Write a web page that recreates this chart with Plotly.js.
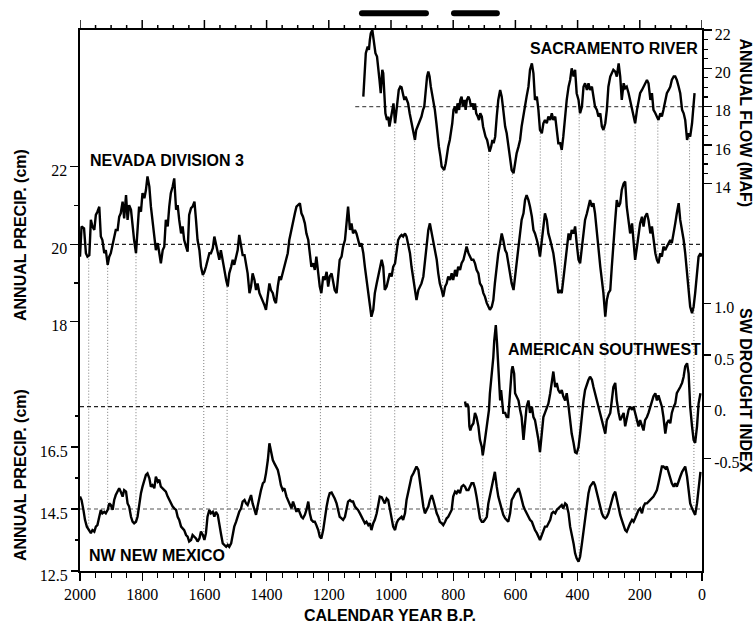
<!DOCTYPE html>
<html>
<head>
<meta charset="utf-8">
<script src="https://cdn.plot.ly/plotly-3.0.1.min.js"></script>
<style>
  html, body { margin: 0; padding: 0; background: #fff; }
  #chart { width: 756px; height: 624px; }
</style>
</head>
<body>
<div id="chart"></div>
<script>
// ---- Nevada Division 3 reconstructed annual precipitation (cm) ----
const nevadaYears = [
  2000,1995,1987,1981,1976,1970,1965,1960,1954,1949,1944,1938,1933,1928,1922,1917,1911,1906,1901,1895,
  1890,1885,1879,1874,1869,1863,1858,1852,1847,1842,1836,1831,1826,1820,1815,1810,1804,1799,1793,1788,
  1783,1777,1772,1767,1761,1756,1750,1745,1740,1734,1729,1724,1718,1713,1708,1702,1697,1691,1686,1681,
  1675,1670,1665,1659,1654,1649,1643,1638,1632,1627,1622,1616,1611,1605,1600,1595,1590,1584,1579,1573,
  1568,1563,1557,1552,1547,1541,1536,1530,1525,1520,1514,1509,1504,1498,1493,1488,1482,1477,1471,1466,
  1461,1455,1450,1445,1439,1434,1429,1423,1418,1412,1407,1402,1396,1391,1386,1380,1375,1370,1364,1359,
  1354,1348,1343,1338,1332,1327,1322,1309,1304,1293,1288,1283,1277,1272,1266,1261,1256,1250,1245,1240,
  1234,1229,1224,1218,1213,1207,1202,1197,1191,1186,1181,1175,1170,1165,1159,1154,1148,1143,1138,1132,
  1127,1122,1116,1111,1106,1100,1095,1089,1084,1079,1073,1068,1063,1057,1052,1046,1041,1036,1030,1025,
  1020,1014,1009,1004,998,993,987,982,977,971,966,961,955,950,945,939,934,928,923,918,
  912,907,902,896,891,885,880,875,869,864,859,853,848,843,837,832,826,821,816,810,
  805,800,794,789,784,778,773,767,762,757,751,746,741,735,730,725,719,714,708,703,
  698,692,687,682,676,671,666,660,655,649,644,639,633,628,623,617,612,606,601,596,
  590,585,580,574,569,564,558,553,547,542,537,531,526,521,515,510,505,499,494,488,
  483,478,472,467,462,456,451,446,440,435,429,424,419,413,408,403,397,392,386,381,
  376,370,365,360,354,349,344,338,333,327,322,317,311,306,301,295,290,285,279,274,
  268,263,258,252,247,242,236,231,225,220,215,209,204,199,193,188,183,177,172,166,
  161,156,150,145,140,134,129,124,118,113,107,102,97,91,86,81,75,70,64,59,
  54,48,43,38,32,27,22,16,11,5,2
];
const nevadaPrecip = [
  19.68,20.46,20.41,19.77,19.68,19.72,20.63,20.46,20.37,20.76,20.84,20.97,20.20,20.11,19.77,19.85,19.47,19.68,19.77,20.03,
  20.20,20.37,20.37,20.71,20.80,21.10,20.67,21.27,20.63,21.01,20.89,20.46,20.11,19.77,20.37,20.97,20.84,21.32,21.19,21.40,
  21.75,21.49,20.97,20.63,20.07,19.85,20.03,19.72,19.51,19.85,19.94,20.63,20.46,20.97,21.32,21.49,21.70,20.89,21.01,20.63,
  20.28,20.46,20.11,19.94,19.81,20.76,20.93,20.97,21.10,20.63,20.11,19.85,19.42,19.21,19.29,19.42,19.60,19.77,19.77,19.90,
  20.20,20.03,19.85,19.60,19.85,19.55,19.34,19.08,18.91,19.25,19.42,19.60,19.47,19.68,19.85,20.24,19.94,19.72,19.72,19.47,
  19.25,18.74,18.91,19.25,19.08,18.82,18.99,18.74,18.65,18.56,18.43,18.31,18.65,18.99,18.82,18.74,18.56,18.48,18.91,19.17,
  19.08,19.25,19.42,19.60,19.77,20.11,20.33,20.80,20.97,21.06,20.80,20.71,20.54,20.28,20.11,19.77,19.42,19.51,19.34,19.68,
  19.17,18.91,18.74,19.17,19.08,19.29,18.91,19.17,19.25,18.99,18.82,18.74,19.17,19.60,19.68,19.94,20.11,20.63,20.97,20.37,
  20.54,20.28,20.37,20.28,20.11,19.94,20.03,19.77,19.42,19.08,18.74,18.39,18.13,18.31,18.74,18.99,19.17,19.42,19.60,19.42,
  18.82,18.91,19.08,19.25,19.17,19.42,19.51,19.77,20.11,20.20,20.24,20.20,20.28,20.20,20.03,19.77,19.42,19.08,18.74,18.56,
  18.82,18.91,18.99,19.17,19.51,19.94,20.37,20.54,20.28,20.11,19.94,19.60,19.25,18.99,18.82,18.65,18.91,18.99,19.17,19.08,
  19.25,19.08,19.34,19.17,19.42,19.34,19.51,19.60,19.77,19.94,19.77,19.68,19.60,19.60,19.51,19.34,19.25,18.99,18.91,18.74,
  18.65,18.48,18.39,18.31,18.39,18.56,18.99,19.42,19.77,20.03,20.28,20.11,19.85,19.77,19.51,19.25,18.99,18.82,19.17,19.60,
  20.03,20.37,20.63,20.80,21.14,21.27,21.14,20.97,20.71,20.37,20.28,20.11,19.94,19.68,20.11,20.46,20.80,20.63,20.28,20.11,
  19.94,19.77,19.42,18.99,18.74,18.82,18.74,19.08,19.51,19.94,20.28,20.11,20.37,20.28,20.46,20.03,19.60,19.51,19.94,20.28,
  20.63,20.80,20.97,21.14,20.97,21.06,20.80,20.28,19.77,19.42,19.08,18.74,18.13,18.56,18.74,18.82,19.42,20.11,20.63,21.14,
  20.97,21.06,21.40,21.57,21.62,20.97,20.63,20.28,20.54,20.03,19.60,19.94,20.28,20.54,20.71,20.46,20.71,20.80,20.63,20.28,
  20.46,20.11,19.77,19.60,19.51,19.77,19.68,19.94,19.85,19.94,20.03,20.11,20.03,20.28,20.54,20.80,21.06,20.63,20.37,20.11,
  19.77,19.25,18.74,18.39,18.22,18.39,18.74,19.25,19.68,19.77,19.68
];

// ---- Sacramento River reconstructed annual flow (MAF) ----
const sacYears = [
  1089,1084,1081,1075,1071,1068,1065,1060,1057,1054,1050,1045,1041,1037,1033,1028,1025,1022,1018,1013,
  1009,1005,1000,996,992,987,983,979,975,970,966,962,957,953,949,945,940,936,932,927,
  923,919,915,910,906,902,897,893,889,884,880,876,872,867,863,859,854,850,846,841,
  837,833,829,824,820,816,811,807,803,799,794,790,786,781,777,773,769,764,760,756,
  751,747,743,738,734,730,726,721,717,713,708,704,700,696,691,687,683,678,674,670,
  665,660,655,649,644,639,633,628,623,617,612,606,601,596,590,585,580,574,569,564,
  558,553,547,542,537,531,526,521,515,510,505,499,494,488,483,478,472,467,462,456,
  451,446,440,435,429,424,419,413,408,403,397,392,386,381,376,370,365,360,354,349,
  344,338,333,327,322,317,311,306,301,295,290,285,279,274,268,263,258,252,247,242,
  236,231,225,220,215,209,204,199,193,188,183,177,172,166,161,156,150,145,140,134,
  129,124,118,113,107,102,97,91,86,81,75,70,64,59,54,48,43,38,32,27,24
];
const sacFlow = [
  18.52,20.09,20.79,21.13,20.96,21.48,21.83,22.00,21.66,21.31,20.79,20.61,20.09,19.39,18.70,19.92,19.74,18.70,17.65,17.30,
  17.48,16.96,17.48,17.83,18.17,17.13,17.83,18.52,18.87,19.04,19.01,18.70,18.35,18.52,18.35,18.17,17.65,17.30,17.13,16.61,
  16.26,16.78,16.96,17.13,17.39,17.48,17.83,18.00,18.70,19.57,19.83,19.57,19.04,18.52,18.35,17.83,17.13,16.43,15.91,15.39,
  14.87,14.78,14.69,15.04,15.56,15.91,16.26,16.61,17.13,17.83,18.00,17.65,18.17,17.83,18.35,18.52,18.00,18.35,17.83,18.35,
  18.52,18.35,18.00,18.17,17.83,18.17,17.65,17.48,17.30,17.65,17.48,16.96,16.61,16.43,16.26,15.91,15.65,15.91,16.26,16.09,
  16.43,17.48,18.35,18.87,18.52,17.83,16.96,16.61,15.91,15.21,14.69,14.52,15.04,15.56,15.91,16.26,16.96,17.65,18.17,18.52,
  19.04,19.92,20.26,19.74,18.35,18.52,17.83,16.78,16.61,17.13,17.30,17.13,17.48,17.30,17.65,17.30,17.48,16.61,16.09,16.09,
  15.74,16.43,17.65,18.35,19.04,19.39,20.00,19.57,19.92,18.70,18.35,17.65,18.00,19.04,19.22,18.87,19.22,18.87,19.04,18.52,
  18.00,17.83,17.48,17.65,16.96,16.78,17.13,17.83,19.04,19.57,19.74,19.92,19.83,19.57,20.26,19.57,18.35,19.22,18.96,19.04,
  18.70,18.35,18.00,17.65,17.13,17.83,18.35,18.70,18.87,19.04,19.22,19.39,19.22,18.35,18.70,17.83,17.65,17.48,17.30,17.65,
  17.48,17.83,18.35,18.70,18.87,19.04,19.39,19.57,19.57,19.39,19.04,18.70,17.83,17.65,17.30,16.26,16.61,16.43,17.13,18.35,18.70
];

// ---- American Southwest drought index ----
const swYears = [
  762,759,755,751,748,745,741,735,730,725,719,714,708,705,701,698,692,689,685,682,
  676,671,668,663,659,655,649,646,642,639,633,628,623,619,615,612,609,604,601,596,
  590,585,580,574,569,564,558,553,547,542,537,531,526,521,515,510,505,499,494,488,
  483,478,472,467,462,456,451,446,440,435,429,424,419,413,408,403,397,392,386,381,
  376,370,365,360,354,349,344,338,333,327,322,317,311,306,301,295,290,285,279,274,
  268,263,258,252,247,242,236,231,225,220,215,209,204,199,193,188,183,177,172,166,
  161,156,150,145,140,134,129,124,118,113,107,102,97,91,86,81,75,70,64,59,
  54,48,43,38,32,27,22,16,11,5
];
const swIndex = [
  0.05,0.00,0.03,0.00,-0.19,-0.23,-0.19,-0.16,-0.06,-0.10,-0.19,-0.32,-0.39,-0.47,-0.39,-0.32,-0.18,-0.13,-0.03,0.13,
  0.29,0.48,0.64,0.79,0.61,0.39,0.06,0.16,0.06,-0.06,-0.06,-0.10,-0.10,0.10,0.26,0.35,0.39,0.32,0.13,0.10,
  0.06,-0.03,-0.10,-0.32,-0.13,0.00,0.06,-0.06,0.00,-0.10,-0.13,-0.23,-0.32,-0.44,-0.26,-0.10,-0.06,0.00,0.03,0.13,
  0.23,0.34,0.19,0.23,0.16,0.13,0.16,0.10,0.06,0.13,0.00,-0.13,-0.26,-0.35,-0.44,-0.45,-0.39,-0.26,-0.06,0.06,
  0.16,0.23,0.26,0.29,0.26,0.19,0.13,0.06,0.00,-0.10,-0.16,-0.19,-0.26,-0.13,-0.10,-0.06,0.06,0.19,0.23,0.06,
  -0.06,-0.13,-0.10,-0.06,-0.19,-0.13,-0.03,0.00,-0.03,0.00,-0.06,-0.13,-0.19,-0.13,-0.19,-0.23,-0.13,-0.10,-0.06,0.00,
  0.06,0.10,0.13,0.06,0.11,0.06,0.00,-0.10,-0.26,-0.16,-0.13,-0.16,-0.06,0.00,0.03,0.13,0.16,0.19,0.23,0.29,
  0.39,0.42,0.32,0.00,-0.19,-0.32,-0.35,-0.19,0.03,0.13
];

// ---- NW New Mexico reconstructed annual precipitation (cm) ----
const nmYears = [
  2000,1995,1989,1984,1978,1970,1965,1960,1954,1949,1944,1938,1933,1928,1922,1917,1911,1906,1901,1895,
  1890,1885,1879,1874,1869,1863,1858,1852,1847,1842,1836,1831,1826,1820,1815,1810,1804,1799,1793,1788,
  1783,1777,1772,1767,1761,1756,1750,1745,1740,1734,1729,1724,1718,1713,1708,1702,1697,1691,1686,1681,
  1675,1670,1665,1659,1654,1649,1643,1638,1632,1627,1622,1616,1611,1605,1600,1595,1590,1584,1579,1573,
  1568,1563,1557,1552,1547,1541,1536,1530,1525,1520,1514,1509,1504,1498,1493,1488,1482,1477,1471,1466,
  1461,1455,1450,1445,1439,1434,1429,1423,1418,1412,1407,1402,1396,1391,1386,1380,1375,1370,1364,1359,
  1354,1348,1343,1336,1331,1326,1320,1315,1309,1304,1299,1293,1288,1283,1277,1272,1266,1261,1256,1250,
  1245,1240,1234,1229,1224,1218,1213,1207,1202,1197,1191,1186,1181,1175,1170,1165,1159,1154,1148,1143,
  1138,1132,1127,1122,1116,1111,1106,1100,1095,1089,1084,1079,1073,1068,1063,1057,1052,1046,1041,1036,
  1030,1025,1020,1014,1009,1004,998,993,987,982,977,971,966,961,955,950,945,939,934,928,
  923,918,912,907,902,896,891,885,880,875,869,864,859,853,848,843,837,832,826,821,
  816,810,805,800,794,789,784,778,773,767,762,757,751,746,741,735,730,725,719,714,
  708,703,698,692,687,682,676,671,666,660,655,649,644,639,633,628,623,617,612,606,
  601,596,590,585,580,574,569,564,558,553,547,542,537,531,526,521,515,510,505,499,
  494,488,483,478,472,467,462,456,451,446,440,435,429,424,419,413,408,403,397,392,
  386,381,376,370,365,360,354,349,344,338,333,327,322,317,311,306,301,295,290,285,
  279,274,268,263,258,252,247,242,236,231,225,220,215,209,204,199,193,188,183,177,
  172,166,161,156,150,145,140,134,129,124,118,113,107,102,97,91,86,81,75,70,
  64,59,54,48,43,38,32,27,22,16,11,5
];
const nmPrecip = [
  14.90,14.79,14.47,14.15,13.93,13.82,13.72,13.82,13.77,13.93,13.98,14.25,14.47,14.36,14.41,14.36,14.47,14.68,14.63,14.47,
  14.79,14.95,15.06,15.17,15.06,14.90,15.11,15.06,14.68,14.58,14.25,14.09,14.04,14.09,14.25,14.68,15.01,15.22,15.44,15.60,
  15.65,15.49,15.22,15.27,15.17,15.54,15.38,15.44,15.22,15.17,15.11,15.06,14.90,14.79,14.68,14.58,14.52,14.47,14.25,14.15,
  13.93,13.88,13.82,13.66,13.61,13.45,13.50,13.66,13.61,13.55,13.45,13.55,13.77,13.66,13.50,13.72,14.25,14.47,14.36,14.41,
  14.25,14.41,14.31,13.93,13.72,13.39,13.34,13.28,13.34,13.28,13.39,13.66,13.93,14.09,14.25,14.41,14.52,14.74,14.79,14.68,
  14.63,14.79,14.95,14.68,14.47,14.31,14.58,14.90,15.11,15.33,15.38,15.65,16.08,16.62,16.40,16.08,15.97,15.87,15.76,15.54,
  15.27,15.11,15.17,14.90,14.79,14.68,14.52,14.74,14.52,14.41,14.52,14.36,14.25,14.20,14.31,14.47,14.74,14.36,14.15,14.09,
  14.09,13.98,13.82,13.61,13.55,13.82,14.25,14.58,14.84,15.01,15.03,14.95,14.84,14.68,14.47,14.25,14.20,14.15,14.25,14.52,
  14.74,14.79,14.74,14.74,14.58,14.52,14.47,14.36,14.25,14.15,14.04,14.09,13.98,14.04,13.82,14.04,14.15,14.36,14.63,14.90,
  14.88,14.79,14.68,14.84,14.79,14.52,14.15,13.93,13.82,14.04,14.15,14.20,14.25,14.15,14.36,14.79,15.01,15.27,15.54,15.65,
  15.76,15.87,15.76,15.33,15.01,14.58,14.36,14.47,14.58,14.79,14.95,14.79,14.58,14.36,14.25,14.09,14.04,13.98,14.09,14.20,
  14.25,14.36,14.47,14.90,15.06,15.01,15.11,15.01,15.22,15.27,15.22,15.11,15.11,15.22,15.33,15.33,15.17,14.90,14.58,14.20,
  14.09,14.09,14.15,14.25,14.68,14.90,15.22,15.44,15.70,15.22,14.90,14.68,14.47,14.31,14.20,14.15,14.09,14.36,14.79,14.90,
  15.01,15.06,15.17,15.01,14.79,14.58,14.47,14.36,14.25,14.15,14.09,13.93,13.82,13.72,13.61,13.50,13.66,13.82,13.93,13.93,
  14.04,14.15,14.36,14.41,14.36,14.47,14.52,14.58,14.63,14.52,14.68,14.63,14.36,13.93,13.72,13.39,13.07,12.91,12.80,12.96,
  13.39,13.82,14.25,14.68,15.01,15.22,15.33,15.38,15.27,15.01,14.79,14.52,14.36,14.25,14.20,14.25,14.36,14.58,14.79,14.95,
  15.06,14.79,14.47,14.31,14.15,13.98,13.82,13.77,13.93,14.04,14.15,14.09,14.20,14.36,14.47,14.52,14.36,14.58,14.68,14.68,
  14.74,14.79,14.84,14.90,15.01,15.11,15.33,15.65,15.87,15.87,15.81,15.87,15.65,15.44,15.33,15.22,15.33,15.22,15.44,15.54,
  15.70,15.81,15.87,15.54,15.11,14.68,14.52,14.41,14.31,14.68,15.22,15.70
];

// Long-term means (dashed reference lines)
const nevadaMean = 20, sacMean = 18, swMean = 0, nmMean = 14.5;
const sacMeanFrom = 1115;

// Severe drought epochs marked above the frame (years B.P.)
const droughtStart = [1103, 807];
const droughtEnd   = [878, 650];

// Troughs traced between records: [year, upper record, lower record]
const troughLinks = [
  [1972,'nv','nm'],[1911,'nv','nm'],[1820,'nv','nm'],[1602,'nv','nm'],[1527,'nv','nm'],
  [1227,'nv','nm'],[1065,'nv','nm'],[988,'sac','nm'],[924,'sac','nv'],[834,'sac','nm'],
  [686,'sac','nv'],[705,'sw','nm'],[629,'sw','nm'],[610,'sac','nv'],[520,'sac','nm'],
  [452,'sac','nv'],[395,'sac','nm'],[312,'sac','nm'],[215,'sac','nm'],[142,'sac','nv'],
  [40,'sac','nv'],[26,'nv','nm']
];

// Tick values
const yearTicks = [2000,1800,1600,1400,1200,1000,800,600,400,200,0];
const yearMinorStep = 50;
const nvTicks = [18,20,22], nvMinor = [19,21];
const nmTicks = [12.5,14.5,16.5], nmMinor = [13.5,15.5,17.5];
const sacTicks = [14,16,18,20,22];
const sacMinor = [14.5,15,15.5,16.5,17,17.5,18.5,19,19.5,20.5,21,21.5];
const swTicks = [-0.5,0,0.5,1.0], swTickText = ['-0.5','0.','0.5','1.0'];

// ---- layout geometry ----
const M = {l: 80, r: 54, t: 30, b: 53};
const W = 756, H = 624;
const plotW = W - M.l - M.r, plotH = H - M.t - M.b;

// Each record gets its own vertical scale within the shared frame
const ranges = {
  nv:  [11.569, 25.530],
  sac: [-6.25, 22.0],
  sw:  [-1.589, 3.643],
  nm:  [12.5, 29.952]
};
const seriesData = {
  nv:  [nevadaYears, nevadaPrecip],
  sac: [sacYears, sacFlow],
  sw:  [swYears, swIndex],
  nm:  [nmYears, nmPrecip]
};

function toPaper(key, v) {
  const r = ranges[key];
  return (v - r[0]) / (r[1] - r[0]);
}
function valueAt(key, year) {
  const xs = seriesData[key][0], ys = seriesData[key][1];
  for (let i = 0; i < xs.length - 1; i++) {
    if ((xs[i] >= year && year >= xs[i + 1])) {
      const t = (xs[i] - year) / (xs[i] - xs[i + 1]);
      return ys[i] + t * (ys[i + 1] - ys[i]);
    }
  }
  return ys[ys.length - 1];
}

const serifFont = {family: '"Liberation Serif", "DejaVu Serif", Times, serif', size: 16, color: '#000'};
const sansBold = {family: '"Liberation Sans", Arial, sans-serif', size: 16, color: '#000'};

function curve(xs, ys, yaxis) {
  return {
    x: xs, y: ys, xaxis: 'x', yaxis: yaxis,
    type: 'scatter', mode: 'lines',
    line: {color: '#000', width: 2.4},
    hoverinfo: 'skip', showlegend: false
  };
}

const traces = [
  curve(nevadaYears, nevadaPrecip, 'y'),
  curve(sacYears, sacFlow, 'y2'),
  curve(nmYears, nmPrecip, 'y3'),
  curve(swYears, swIndex, 'y4')
];

const shapes = [];

// dotted trough connectors
troughLinks.forEach(([yr, a, b]) => {
  shapes.push({
    type: 'line', layer: 'below', xref: 'x', yref: 'paper',
    x0: yr, x1: yr,
    y0: toPaper(a, valueAt(a, yr)), y1: toPaper(b, valueAt(b, yr)),
    line: {color: '#7a7a7a', width: 1, dash: '1px,2px'}
  });
});

// dashed mean lines
function meanLine(yref, v, from, color) {
  return {
    type: 'line', layer: 'below', xref: 'x', yref: yref,
    x0: from, x1: 0, y0: v, y1: v,
    line: {color: color, width: 1.2, dash: '4px,3px'}
  };
}
shapes.push(meanLine('y', nevadaMean, 2000, '#222'));
shapes.push(meanLine('y2', sacMean, sacMeanFrom, '#555'));
shapes.push(meanLine('y4', swMean, 2000, '#222'));
shapes.push(meanLine('y3', nmMean, 2000, '#555'));

// year ticks repeated along the top edge of the frame
for (let yr = 2000; yr >= 0; yr -= yearMinorStep) {
  const len = yearTicks.indexOf(yr) >= 0 ? 10 : 5;
  shapes.push({
    type: 'line', layer: 'above', xref: 'x', yref: 'paper',
    x0: yr, x1: yr, y0: 1 + 1 / plotH, y1: 1 + len / plotH,
    line: {color: '#000', width: 1.5}
  });
}

// drought epoch bars above the frame (rounded ends)
const barMid = 1 + (M.t - 13.3) / plotH;
const barHalf = 3 / plotH;
const capYears = 3 / (plotW / 2000);
droughtStart.forEach((a, i) => {
  const b = droughtEnd[i];
  const yt = barMid + barHalf, yb = barMid - barHalf;
  const xl = a - capYears, xr = b + capYears;
  shapes.push({
    type: 'path', layer: 'above', xref: 'x', yref: 'paper',
    path: `M ${xl},${yt} L ${xr},${yt} Q ${b},${yt} ${b},${barMid} Q ${b},${yb} ${xr},${yb} ` +
          `L ${xl},${yb} Q ${a},${yb} ${a},${barMid} Q ${a},${yt} ${xl},${yt} Z`,
    fillcolor: '#000', line: {width: 0}
  });
});

function px2paperX(px) { return (px - M.l) / plotW; }
function px2paperY(py) { return (H - M.b - py) / plotH; }

const annotations = [
  {text: '<b>NEVADA DIVISION 3</b>', x: px2paperX(88), y: px2paperY(160.3), xanchor: 'left', yanchor: 'middle'},
  {text: '<b>SACRAMENTO RIVER</b>', x: px2paperX(700), y: px2paperY(48.8), xanchor: 'right', yanchor: 'middle'},
  {text: '<b>AMERICAN SOUTHWEST</b>', x: px2paperX(703), y: px2paperY(350), xanchor: 'right', yanchor: 'middle'},
  {text: '<b>NW NEW MEXICO</b>', x: px2paperX(87), y: px2paperY(555.5), xanchor: 'left', yanchor: 'middle'},
  {text: '<b>CALENDAR YEAR B.P.</b>', x: px2paperX(390), y: px2paperY(615), xanchor: 'center', yanchor: 'middle'},
  {text: '<b>ANNUAL PRECIP. (cm)</b>', x: px2paperX(20), y: px2paperY(235), textangle: -90, xanchor: 'center', yanchor: 'middle'},
  {text: '<b>ANNUAL PRECIP. (cm)</b>', x: px2paperX(20), y: px2paperY(475), textangle: -90, xanchor: 'center', yanchor: 'middle'},
  {text: '<b>ANNUAL FLOW (MAF)</b>', x: px2paperX(745), y: px2paperY(122.5), textangle: 90, xanchor: 'center', yanchor: 'middle'},
  {text: '<b>SW DROUGHT INDEX</b>', x: px2paperX(746), y: px2paperY(390), textangle: 90, xanchor: 'center', yanchor: 'middle'}
].map(a => Object.assign({xref: 'paper', yref: 'paper', showarrow: false, font: sansBold}, a));

const tickCommon = {
  ticks: 'outside', tickcolor: '#000', tickwidth: 1.3,
  showgrid: false, zeroline: false, tickfont: serifFont, fixedrange: true
};

const layout = {
  width: W, height: H,
  margin: M,
  paper_bgcolor: '#fff', plot_bgcolor: '#fff',
  showlegend: false,
  xaxis: Object.assign({}, tickCommon, {
    range: [2000, 0], autorange: false,
    tickmode: 'array', tickvals: yearTicks, ticktext: yearTicks.map(String),
    ticklen: 8,
    minor: {dtick: yearMinorStep, tick0: 0, ticks: 'outside', ticklen: 5, tickcolor: '#000', tickwidth: 1.2},
    showline: true, mirror: true, linecolor: '#000', linewidth: 1.6
  }),
  yaxis: Object.assign({}, tickCommon, {
    range: ranges.nv, side: 'left',
    tickmode: 'array', tickvals: nvTicks, ticktext: nvTicks.map(String),
    ticklen: 8, ticklabelshift: 4,
    minor: {tickmode: 'array', tickvals: nvMinor, ticks: 'outside', ticklen: 4, tickcolor: '#000', tickwidth: 1.2},
    showline: true, linecolor: '#000', linewidth: 1.6
  }),
  yaxis2: Object.assign({}, tickCommon, {
    range: ranges.sac, side: 'right', overlaying: 'y',
    tickmode: 'array', tickvals: sacTicks, ticktext: sacTicks.map(String),
    ticklen: 8, ticklabelshift: 4,
    minor: {tickmode: 'array', tickvals: sacMinor, ticks: 'outside', ticklen: 4, tickcolor: '#000', tickwidth: 1.2},
    showline: true, linecolor: '#000', linewidth: 1.6
  }),
  yaxis3: Object.assign({}, tickCommon, {
    range: ranges.nm, side: 'left', overlaying: 'y',
    tickmode: 'array', tickvals: nmTicks, ticktext: nmTicks.map(String),
    ticklen: 8, ticklabelshift: 4,
    minor: {tickmode: 'array', tickvals: nmMinor, ticks: 'outside', ticklen: 4, tickcolor: '#000', tickwidth: 1.2},
    showline: false
  }),
  yaxis4: Object.assign({}, tickCommon, {
    range: ranges.sw, side: 'right', overlaying: 'y',
    tickmode: 'array', tickvals: swTicks, ticktext: swTickText,
    ticklen: 8, ticklabelshift: 4,
    showline: false
  }),
  shapes: shapes,
  annotations: annotations
};

Plotly.newPlot('chart', traces, layout, {staticPlot: true, displayModeBar: false});
</script>
</body>
</html>
